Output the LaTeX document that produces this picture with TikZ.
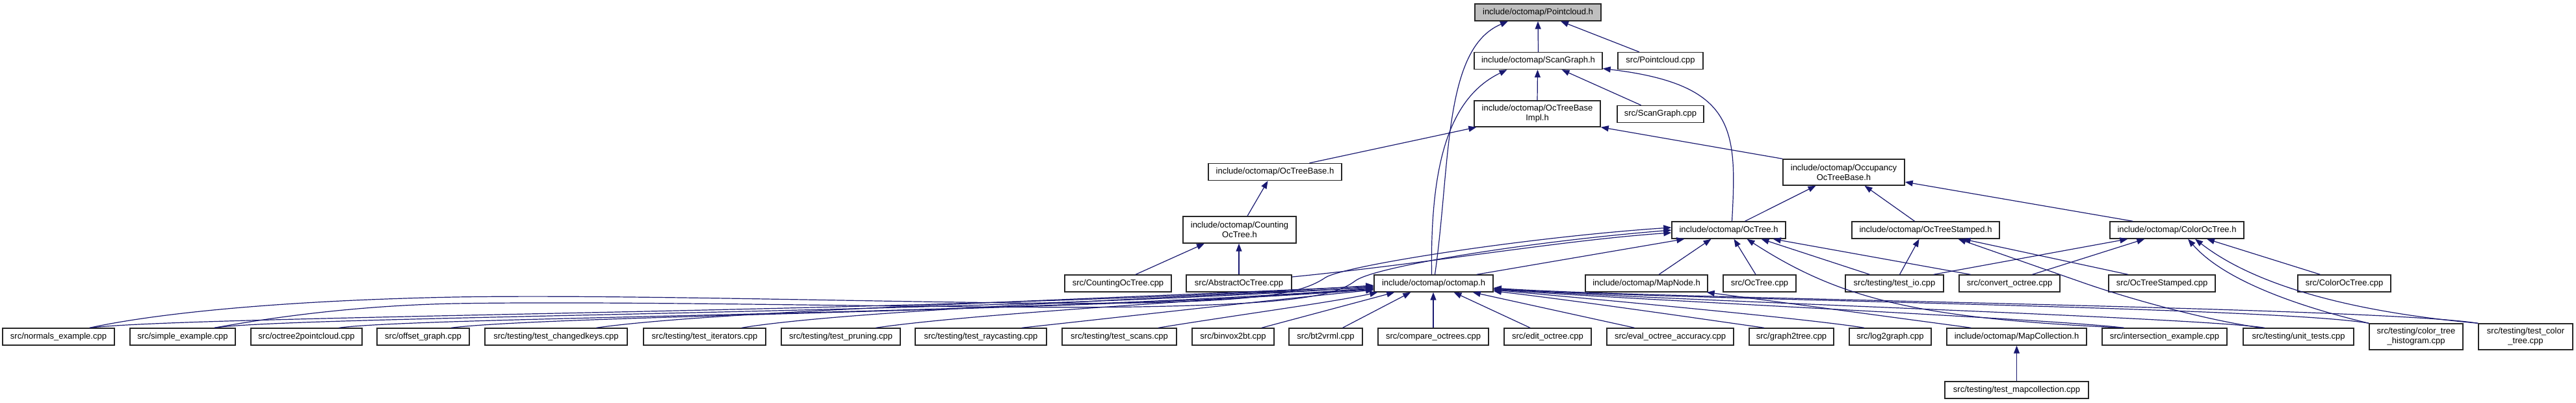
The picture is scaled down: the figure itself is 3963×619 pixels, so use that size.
\documentclass[tikz,border=0pt]{standalone}
\usepackage{fontspec}
\setmainfont{Liberation Sans}
\usetikzlibrary{arrows.meta,calc}
\definecolor{edgeblue}{RGB}{25,25,112}
\definecolor{rootfill}{RGB}{191,191,191}
\tikzset{
  box/.style={draw=black!85, line width=1.4pt, fill=white, inner sep=0pt,
    minimum height=26pt, font=\fontsize{13}{15}\selectfont},
  box2/.style={box, minimum height=40pt, align=center},
  edge/.style={draw=edgeblue, line width=1.2pt, -{Triangle[length=12pt,width=9pt]}}
}
\begin{document}
\begin{tikzpicture}[x=1pt,y=-1pt]
\useasboundingbox (0,0) rectangle (3963,619);
% ---------- nodes ----------
\node[box, fill=rootfill, minimum width=194pt] (PC) at (2366,19) {include/octomap/Pointcloud.h};
\node[box, minimum width=197pt] (SG) at (2366.5,93.5) {include/octomap/ScanGraph.h};
\node[box, minimum width=131pt] (PCcpp) at (2554.5,93.5) {src/Pointcloud.cpp};
\node[box2, minimum width=194pt] (OBI) at (2365,175) {include/octomap/OcTreeBase\\Impl.h};
\node[box, minimum width=133pt] (SGcpp) at (2554.5,175.5) {src/ScanGraph.cpp};
\node[box, minimum width=205pt] (OB) at (1961.5,264.5) {include/octomap/OcTreeBase.h};
\node[box2, minimum width=187pt] (OOB) at (2836.5,265) {include/octomap/Occupancy\\OcTreeBase.h};
\node[box2, minimum width=174pt, minimum height=41pt] (COT) at (1907,353.5) {include/octomap/Counting\\OcTree.h};
\node[box, minimum width=175pt] (OT) at (2659.5,354) {include/octomap/OcTree.h};
\node[box, minimum width=227pt] (OTS) at (2962.5,354) {include/octomap/OcTreeStamped.h};
\node[box, minimum width=206pt] (CLT) at (3349,354) {include/octomap/ColorOcTree.h};
\node[box, minimum width=164pt] (COTcpp) at (1720,436) {src/CountingOcTree.cpp};
\node[box, minimum width=162pt] (AOTcpp) at (1906,436) {src/AbstractOcTree.cpp};
\node[box, minimum width=183pt] (OM) at (2205.5,436) {include/octomap/octomap.h};
\node[box, minimum width=188pt] (MN) at (2533,436) {include/octomap/MapNode.h};
\node[box, minimum width=112pt] (OTcpp) at (2707,436) {src/OcTree.cpp};
\node[box, minimum width=151pt] (TIO) at (2914.5,436) {src/testing/test\_io.cpp};
\node[box, minimum width=155pt] (CONV) at (3091.5,436) {src/convert\_octree.cpp};
\node[box, minimum width=164pt] (OTScpp) at (3326,436) {src/OcTreeStamped.cpp};
\node[box, minimum width=143pt] (CLTcpp) at (3606.5,436) {src/ColorOcTree.cpp};
% bottom row
\node[box, minimum width=172pt] (NORM) at (90,518) {src/normals\_example.cpp};
\node[box, minimum width=162pt] (SIMP) at (281,518) {src/simple\_example.cpp};
\node[box, minimum width=171pt] (O2P) at (471.5,518) {src/octree2pointcloud.cpp};
\node[box, minimum width=142pt] (OFF) at (651,518) {src/offset\_graph.cpp};
\node[box, minimum width=219pt] (CHK) at (855.5,518) {src/testing/test\_changedkeys.cpp};
\node[box, minimum width=188pt] (ITER) at (1084,518) {src/testing/test\_iterators.cpp};
\node[box, minimum width=183pt] (PRUN) at (1293.5,518) {src/testing/test\_pruning.cpp};
\node[box, minimum width=202pt] (RAY) at (1509,518) {src/testing/test\_raycasting.cpp};
\node[box, minimum width=176pt] (SCAN) at (1722,518) {src/testing/test\_scans.cpp};
\node[box, minimum width=126pt] (BINV) at (1897,518) {src/binvox2bt.cpp};
\node[box, minimum width=113pt] (BT2V) at (2039.5,518) {src/bt2vrml.cpp};
\node[box, minimum width=170pt] (CMP) at (2205,518) {src/compare\_octrees.cpp};
\node[box, minimum width=134pt] (EDIT) at (2381,518) {src/edit\_octree.cpp};
\node[box, minimum width=195pt] (EVAL) at (2569.5,518) {src/eval\_octree\_accuracy.cpp};
\node[box, minimum width=130pt] (G2T) at (2756,518) {src/graph2tree.cpp};
\node[box, minimum width=126pt] (L2G) at (2908,518) {src/log2graph.cpp};
\node[box, minimum width=215pt] (MC) at (3102.5,518) {include/octomap/MapCollection.h};
\node[box, minimum width=192pt] (INT) at (3330,518) {src/intersection\_example.cpp};
\node[box, minimum width=170pt] (UT) at (3536,518) {src/testing/unit\_tests.cpp};
\node[box2, minimum width=144pt] (CTH) at (3717,518) {src/testing/color\_tree\\\_histogram.cpp};
\node[box2, minimum width=145pt] (TCT) at (3885.5,518) {src/testing/test\_color\\\_tree.cpp};
\node[box, minimum width=221pt] (TMC) at (3102.5,600) {src/testing/test\_mapcollection.cpp};
% ---------- edges ----------
\draw[edge] (SG.north) -- (PC.south);
\draw[edge] ($(PCcpp.north)+(-33,0)$) -- ($(PC.south)+(35,0)$);
\draw[edge] ($(OM.north)+(2,0)$) .. controls (2232,250) and (2220,75) .. ($(PC.south)+(-46,0)$);
\draw[edge] ($(OM.north)+(-3,0)$) .. controls (2200,250) and (2230,150) .. ($(SG.south)+(-48,0)$);
\draw[edge] (OBI.north) -- ($(SG.south)+(-1,0)$);
\draw[edge] ($(SGcpp.north)+(-30,0)$) -- ($(SG.south)+(36,0)$);
\draw[edge] ($(OT.north)+(5,0)$) .. controls (2672,200) and (2672,130) .. ($(SG.east)+(0,12)$);
\draw[edge] ($(OB.north)+(53,0)$) -- ($(OBI.south west)+(4,0)$);
\draw[edge] (OOB.north west) -- (OBI.south east);
\draw[edge] ($(COT.north)+(12,0)$) -- ($(OB.south)+(-11,0)$);
\draw[edge] ($(COTcpp.north)+(27,0)$) -- ($(COT.south)+(-54,0)$);
\draw[edge] (AOTcpp.north) -- ($(COT.south)+(-1,0)$);
\draw[edge] ($(OT.north)+(25,0)$) -- ($(OOB.south)+(-43,0)$);
\draw[edge] ($(OTS.north)+(-17,0)$) -- ($(OOB.south)+(32,0)$);
\draw[edge] ($(CLT.north west)+(36,0)$) -- ($(OOB.east)+(0,15)$);
% into OcTree.h
\draw[edge] ($(AOTcpp.east)+(0,-10)$) .. controls (2200,405) and (2400,370) .. ($(OT.west)+(0,4)$);
\draw[edge] ($(OM.north east)+(-26,0)$) -- ($(OT.south west)+(20,0)$);
\draw[edge] ($(MN.north)+(19,0)$) -- ($(OT.south)+(-27,0)$);
\draw[edge] ($(OTcpp.north)+(-6,0)$) -- ($(OT.south)+(8,0)$);
\draw[edge] ($(TIO.north)+(-38,0)$) -- ($(OT.south)+(50,0)$);
\draw[edge] ($(CONV.north)+(-60,0)$) -- ($(OT.south east)+(-20,0)$);
\draw[edge] ($(INT.north west)+(34,0)$) .. controls (2950,490) and (2830,460) .. ($(OT.south)+(28,0)$);
\draw[edge] ($(NORM.north)+(48,0)$) .. controls (250,480) and (450,462) .. (700,457)
  .. controls (1000,452) and (1500,470) .. (1750,466)
  .. controls (1950,462) and (2005,450) .. (2039,427)
  .. controls (2070,408) and (2350,365) .. ($(OT.west)+(0,-4)$);
\draw[edge] ($(SIMP.north)+(49,0)$) .. controls (420,488) and (550,470) .. (700,467)
  .. controls (1000,462) and (1500,476) .. (1750,472)
  .. controls (1990,468) and (2055,455) .. (2085,432)
  .. controls (2115,410) and (2350,372) .. (OT.west);
% into OcTreeStamped.h / ColorOcTree.h
\draw[edge] ($(TIO.north)+(8,0)$) -- ($(OTS.south)+(-10,0)$);
\draw[edge] ($(TIO.north east)+(-16,0)$) -- ($(CLT.south west)+(28,0)$);
\draw[edge] ($(CONV.north)+(35,0)$) -- ($(CLT.south west)+(54,0)$);
\draw[edge] ($(OTScpp.north)+(-52,0)$) -- ($(OTS.south)+(57,0)$);
\draw[edge] ($(UT.north)+(-58,0)$) .. controls (3380,490) and (3262,455) .. (3205,435) -- ($(OTS.south)+(50,0)$);
\draw[edge] ($(CLTcpp.north)+(-37,0)$) -- ($(CLT.south)+(46,0)$);
\draw[edge] (CTH.north west) .. controls (3530,470) and (3420,430) .. ($(CLT.south)+(17,0)$);
\draw[edge] (TCT.north west) .. controls (3620,480) and (3470,440) .. ($(CLT.south)+(28,0)$);
\draw[edge] ($(MC.north west)+(38,0)$) -- ($(MN.south east)+(-2,0)$);
\draw[edge] (TMC.north) -- (MC.south);
% into octomap.h from below
\draw[edge] ($(BINV.north)+(44,0)$) -- ($(OM.south west)+(32,0)$);
\draw[edge] ($(BT2V.north)+(26,0)$) -- ($(OM.south west)+(57,0)$);
\draw[edge] (CMP.north) -- ($(OM.south)+(-0.5,0)$);
\draw[edge] ($(EDIT.north)+(-27,0)$) -- ($(OM.south)+(31,0)$);
\draw[edge] ($(EVAL.north)+(-55,0)$) -- ($(OM.south east)+(-32,0)$);
% into octomap.h from the left
\draw[edge] ($(SCAN.north)+(60,0)$) .. controls (1900,485) and (2050,465) .. ($(OM.south west)+(6,0)$);
\draw[edge] ($(RAY.north)+(63,0)$) .. controls (1750,485) and (1950,462) .. ($(OM.west)+(0,10)$);
\draw[edge] ($(PRUN.north)+(54,0)$) .. controls (1500,482) and (1900,460) .. ($(OM.west)+(0,8)$);
\draw[edge] ($(ITER.north)+(57,0)$) .. controls (1300,478) and (1800,458) .. ($(OM.west)+(0,6)$);
\draw[edge] ($(CHK.north)+(62,0)$) .. controls (1100,478) and (1700,460) .. ($(OM.west)+(0,4)$);
\draw[edge] ($(OFF.north)+(43,0)$) .. controls (850,485) and (1700,478) .. ($(OM.west)+(0,9)$);
\draw[edge] ($(O2P.north)+(50,0)$) .. controls (650,487) and (1600,484) .. ($(OM.west)+(0,7)$);
\draw[edge] ($(SIMP.north)+(49,0)$) .. controls (450,486) and (1550,482) .. ($(OM.west)+(0,5)$);
\draw[edge] ($(NORM.north)+(48,0)$) .. controls (300,485) and (1500,480) .. ($(OM.west)+(0,3)$);
% into octomap.h from the right
\draw[edge] ($(G2T.north)+(-42,0)$) .. controls (2600,488) and (2420,462) .. ($(OM.south east)+(0,-2)$);
\draw[edge] ($(L2G.north)+(-40,0)$) .. controls (2780,490) and (2450,460) .. ($(OM.east)+(0,10)$);
\draw[edge] ($(INT.north west)+(34,0)$) .. controls (3150,490) and (2480,460) .. ($(OM.east)+(0,9)$);
\draw[edge] ($(UT.north)+(-52,0)$) .. controls (3380,488) and (2500,460) .. ($(OM.east)+(0,8)$);
\draw[edge] (CTH.north west) .. controls (3500,472) and (2520,460) .. ($(OM.east)+(0,8)$);
\draw[edge] (TCT.north west) .. controls (3650,472) and (2540,460) .. ($(OM.east)+(0,7)$);
\end{tikzpicture}
\end{document}
